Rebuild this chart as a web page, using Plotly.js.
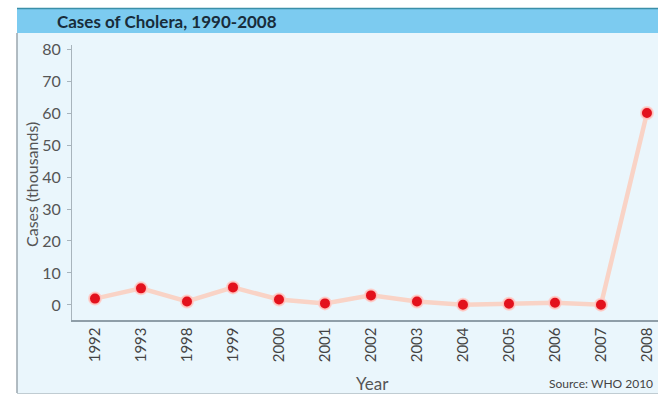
<!DOCTYPE html>
<html>
<head>
<meta charset="utf-8">
<script src="https://cdn.plot.ly/plotly-3.0.1.min.js"></script>
<style>html,body{margin:0;padding:0;background:#fff;}#chart{width:669px;height:398px;}</style>
</head>
<body>
<div id="chart"></div>
<script>
const years = ["1992","1993","1998","1999","2000","2001","2002","2003","2004","2005","2006","2007","2008"];
const cases = [2, 5.2, 1.1, 5.5, 1.7, 0.5, 3, 1.1, 0.1, 0.4, 0.7, 0.1, 60];
const titleText = "Cases of Cholera, 1990-2008";
const yTitle = "Cases (thousands)";
const xTitle = "Year";
const sourceText = "Source: WHO 2010";

// plot area in pixels: left 72, right 658, top 45, bottom 320
const L = 72, R = 658, T = 45, B = 320;
const px = x => (x - L) / (R - L);
const py = y => (B - y) / (B - T);

const trace = {
  x: years.map((_, i) => i),
  y: cases,
  type: "scatter",
  mode: "lines+markers",
  line: {color: "#f9d3c6", width: 4.5},
  marker: {color: "#e3111c", size: 12, line: {color: "rgba(255,205,200,0.9)", width: 2}},
  hoverinfo: "x+y"
};

const layout = {
  width: 669, height: 398,
  margin: {l: L, r: 669 - R, t: T, b: 398 - B, pad: 0},
  paper_bgcolor: "#ffffff",
  plot_bgcolor: "rgba(0,0,0,0)",
  font: {family: "Lato, 'Open Sans', sans-serif", color: "#555"},
  showlegend: false,
  xaxis: {
    range: [-0.5, 12.24],
    tickvals: years.map((_, i) => i),
    ticktext: years,
    tickangle: -90,
    tickfont: {size: 15, color: "#444"},
    showgrid: false, zeroline: false,
    showline: true, linecolor: "#8f9ea8", linewidth: 1.5,
    ticks: "", ticklen: 0
  },
  yaxis: {
    range: [-4.69, 81.25],
    tickvals: [0,10,20,30,40,50,60,70,80],
    tickfont: {size: 16, color: "#555"},
    showgrid: false, zeroline: false,
    showline: true, linecolor: "#a8b4bc", linewidth: 1,
    ticks: "outside", ticklen: 4, tickcolor: "#a8b4bc",
    ticklabelstandoff: 3
  },
  shapes: [
    {type: "rect", xref: "paper", yref: "paper", x0: px(17), x1: px(658), y0: py(393), y1: py(33),
     fillcolor: "#eaf6fc", line: {width: 0}, layer: "below"},
    {type: "rect", xref: "paper", yref: "paper", x0: px(17), x1: px(658), y0: py(33), y1: py(9),
     fillcolor: "#7ccbf0", line: {width: 0}, layer: "below"},
    {type: "line", xref: "paper", yref: "paper", x0: px(17), x1: px(658), y0: py(8.5), y1: py(8.5),
     line: {color: "#3b8fa8", width: 1.5}, layer: "below"},
    {type: "line", xref: "paper", yref: "paper", x0: px(17), x1: px(17), y0: py(393), y1: py(33),
     line: {color: "#9aa6ae", width: 1.5}, layer: "below"},
    {type: "line", xref: "paper", yref: "paper", x0: px(17), x1: px(658), y0: py(393.5), y1: py(393.5),
     line: {color: "#c0ccd2", width: 1}, layer: "below"}
  ],
  annotations: [
    {text: "<b>" + titleText + "</b>", xref: "paper", yref: "paper", x: px(55), y: py(21),
     xanchor: "left", yanchor: "middle", showarrow: false,
     font: {size: 17, color: "#182c3a", family: "Lato, 'Open Sans', sans-serif"}},
    {text: yTitle, xref: "paper", yref: "paper", x: px(32), y: py(185), textangle: -90,
     xanchor: "center", yanchor: "middle", showarrow: false, font: {size: 16, color: "#555"}},
    {text: xTitle, xref: "paper", yref: "paper", x: px(372), y: py(383),
     xanchor: "center", yanchor: "middle", showarrow: false, font: {size: 17, color: "#555"}},
    {text: sourceText, xref: "paper", yref: "paper", x: px(655), y: py(383),
     xanchor: "right", yanchor: "middle", showarrow: false, font: {size: 12, color: "#444"}}
  ]
};

Plotly.newPlot("chart", [trace], layout, {displayModeBar: false, staticPlot: true});
</script>
</body>
</html>
